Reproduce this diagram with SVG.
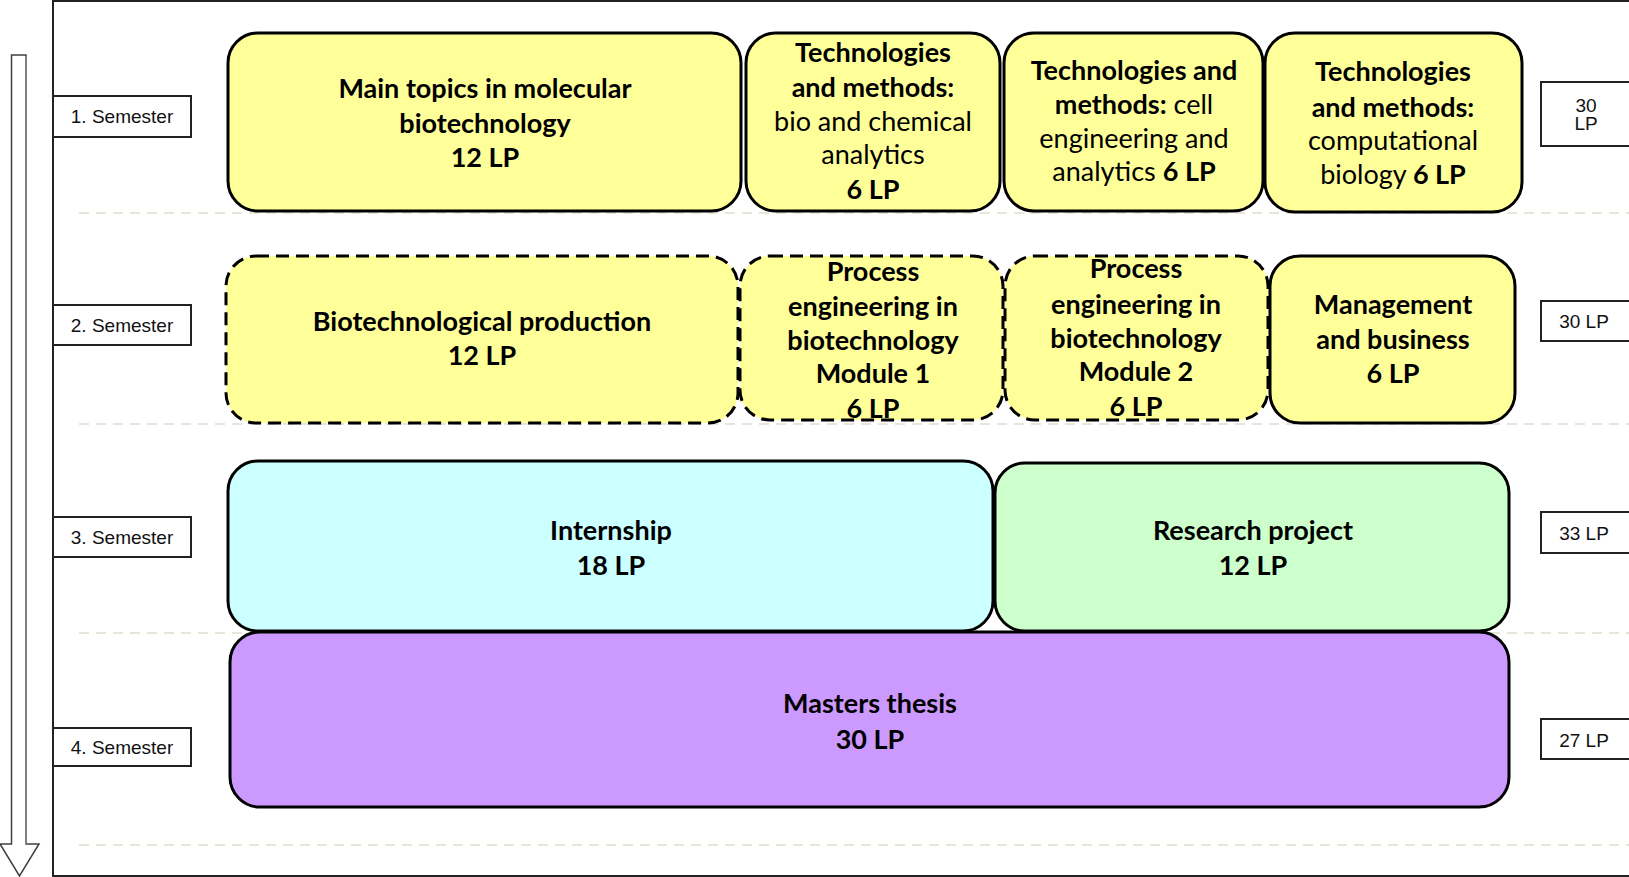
<svg xmlns="http://www.w3.org/2000/svg" width="1629" height="877" viewBox="0 0 1629 877">
<style>
.sep{stroke:#e9e5da;stroke-width:2;stroke-dasharray:10 7;fill:none}
.node{stroke:#000;stroke-width:3}
.dash{stroke-dasharray:13 7}
.y{fill:#ffff99}
.c{fill:#ccffff}
.g{fill:#ccffcc}
.p{fill:#cc99ff}
.t{font-family:Lato,"Liberation Sans",sans-serif;font-size:27px;font-weight:bold;fill:#000;text-anchor:middle}
.n{font-weight:normal}
.lab{fill:#fff;stroke:#222;stroke-width:2}
.lt{font-family:"Liberation Sans",Arial,sans-serif;font-size:19px;fill:#111;text-anchor:middle}
</style>
<rect width="1629" height="877" fill="#fff"/>
<g id="separators">
<line class="sep" x1="79" y1="213" x2="1629" y2="213"/>
<line class="sep" x1="79" y1="424" x2="1629" y2="424"/>
<line class="sep" x1="79" y1="633" x2="1629" y2="633"/>
<line class="sep" x1="79" y1="845" x2="1629" y2="845"/>
</g>
<g id="frame">
<rect x="53" y="1" width="1620" height="875" fill="none" stroke="#222" stroke-width="2"/>
</g>
<g id="time-arrow">
<path d="M11.5,55 H26 V844 H39 L19.5,876 L0,844 H11.5 Z" fill="#fff" stroke="#404040" stroke-width="1.5"/>
<line x1="26" y1="56" x2="26" y2="844" stroke="#808080" stroke-width="2"/>
</g>
<g id="sem1"><rect class="lab" x="53" y="96" width="138" height="41"/><text class="lt" x="122" y="123">1. Semester</text></g>
<g id="sem2"><rect class="lab" x="53" y="305" width="138" height="40"/><text class="lt" x="122" y="332">2. Semester</text></g>
<g id="sem3"><rect class="lab" x="53" y="517" width="138" height="40"/><text class="lt" x="122" y="544">3. Semester</text></g>
<g id="sem4"><rect class="lab" x="53" y="728" width="138" height="38"/><text class="lt" x="122" y="754">4. Semester</text></g>
<g id="lp1"><rect class="lab" x="1541" y="82" width="100" height="64"/><text class="lt" x="1586" y="112">30</text><text class="lt" x="1586" y="130">LP</text></g>
<g id="lp2"><rect class="lab" x="1541" y="301" width="100" height="40"/><text class="lt" x="1584" y="328">30 LP</text></g>
<g id="lp3"><rect class="lab" x="1541" y="512" width="100" height="41"/><text class="lt" x="1584" y="540">33 LP</text></g>
<g id="lp4"><rect class="lab" x="1541" y="719" width="100" height="40"/><text class="lt" x="1584" y="747">27 LP</text></g>
<g id="n-main">
<rect class="node y" x="228" y="33" width="513" height="178" rx="30"/>
<text class="t" x="485" y="98">Main topics in molecular</text>
<text class="t" x="485" y="133">biotechnology</text>
<text class="t" x="485" y="167">12 LP</text>
</g>
<g id="n-tm-bio">
<rect class="node y" x="746" y="33" width="254" height="178" rx="30"/>
<text class="t" x="873" y="62">Technologies</text>
<text class="t" x="873" y="97">and methods:</text>
<text class="t n" x="873" y="131">bio and chemical</text>
<text class="t n" x="873" y="164">analytics</text>
<text class="t" x="873" y="199">6 LP</text>
</g>
<g id="n-tm-cell">
<rect class="node y" x="1004" y="33" width="259" height="178" rx="30"/>
<text class="t" x="1134" y="80">Technologies and</text>
<text class="t" x="1134" y="114">methods:<tspan class="n"> cell</tspan></text>
<text class="t n" x="1134" y="148">engineering and</text>
<text class="t" x="1134" y="181"><tspan class="n">analytics </tspan>6 LP</text>
</g>
<g id="n-tm-comp">
<rect class="node y" x="1265" y="33" width="257" height="179" rx="30"/>
<text class="t" x="1393" y="81">Technologies</text>
<text class="t" x="1393" y="117">and methods:</text>
<text class="t n" x="1393" y="150">computational</text>
<text class="t" x="1393" y="184"><tspan class="n">biology </tspan>6 LP</text>
</g>
<g id="n-bioprod">
<rect class="node y dash" x="226" y="256" width="512" height="167" rx="30"/>
<text class="t" x="482" y="331">Biotechnological production</text>
<text class="t" x="482" y="365">12 LP</text>
</g>
<g id="n-proc1">
<rect class="node y dash" x="740" y="256" width="263" height="164" rx="30"/>
<text class="t" x="873" y="281">Process</text>
<text class="t" x="873" y="316">engineering in</text>
<text class="t" x="873" y="350">biotechnology</text>
<text class="t" x="873" y="383">Module 1</text>
<text class="t" x="873" y="418">6 LP</text>
</g>
<g id="n-proc2">
<rect class="node y dash" x="1005" y="256" width="263" height="164" rx="30"/>
<text class="t" x="1136" y="278">Process</text>
<text class="t" x="1136" y="314">engineering in</text>
<text class="t" x="1136" y="348">biotechnology</text>
<text class="t" x="1136" y="381">Module 2</text>
<text class="t" x="1136" y="416">6 LP</text>
</g>
<g id="n-mgmt">
<rect class="node y" x="1270" y="256" width="245" height="167" rx="30"/>
<text class="t" x="1393" y="314">Management</text>
<text class="t" x="1393" y="349">and business</text>
<text class="t" x="1393" y="383">6 LP</text>
</g>
<g id="n-intern">
<rect class="node c" x="228" y="461" width="765" height="170" rx="30"/>
<text class="t" x="611" y="540">Internship</text>
<text class="t" x="611" y="575">18 LP</text>
</g>
<g id="n-research">
<rect class="node g" x="995" y="463" width="514" height="168" rx="30"/>
<text class="t" x="1253" y="540">Research project</text>
<text class="t" x="1253" y="575">12 LP</text>
</g>
<g id="n-thesis">
<rect class="node p" x="230" y="632" width="1279" height="175" rx="30"/>
<text class="t" x="870" y="713">Masters thesis</text>
<text class="t" x="870" y="749">30 LP</text>
</g>
<g id="connectors"/>
</svg>
